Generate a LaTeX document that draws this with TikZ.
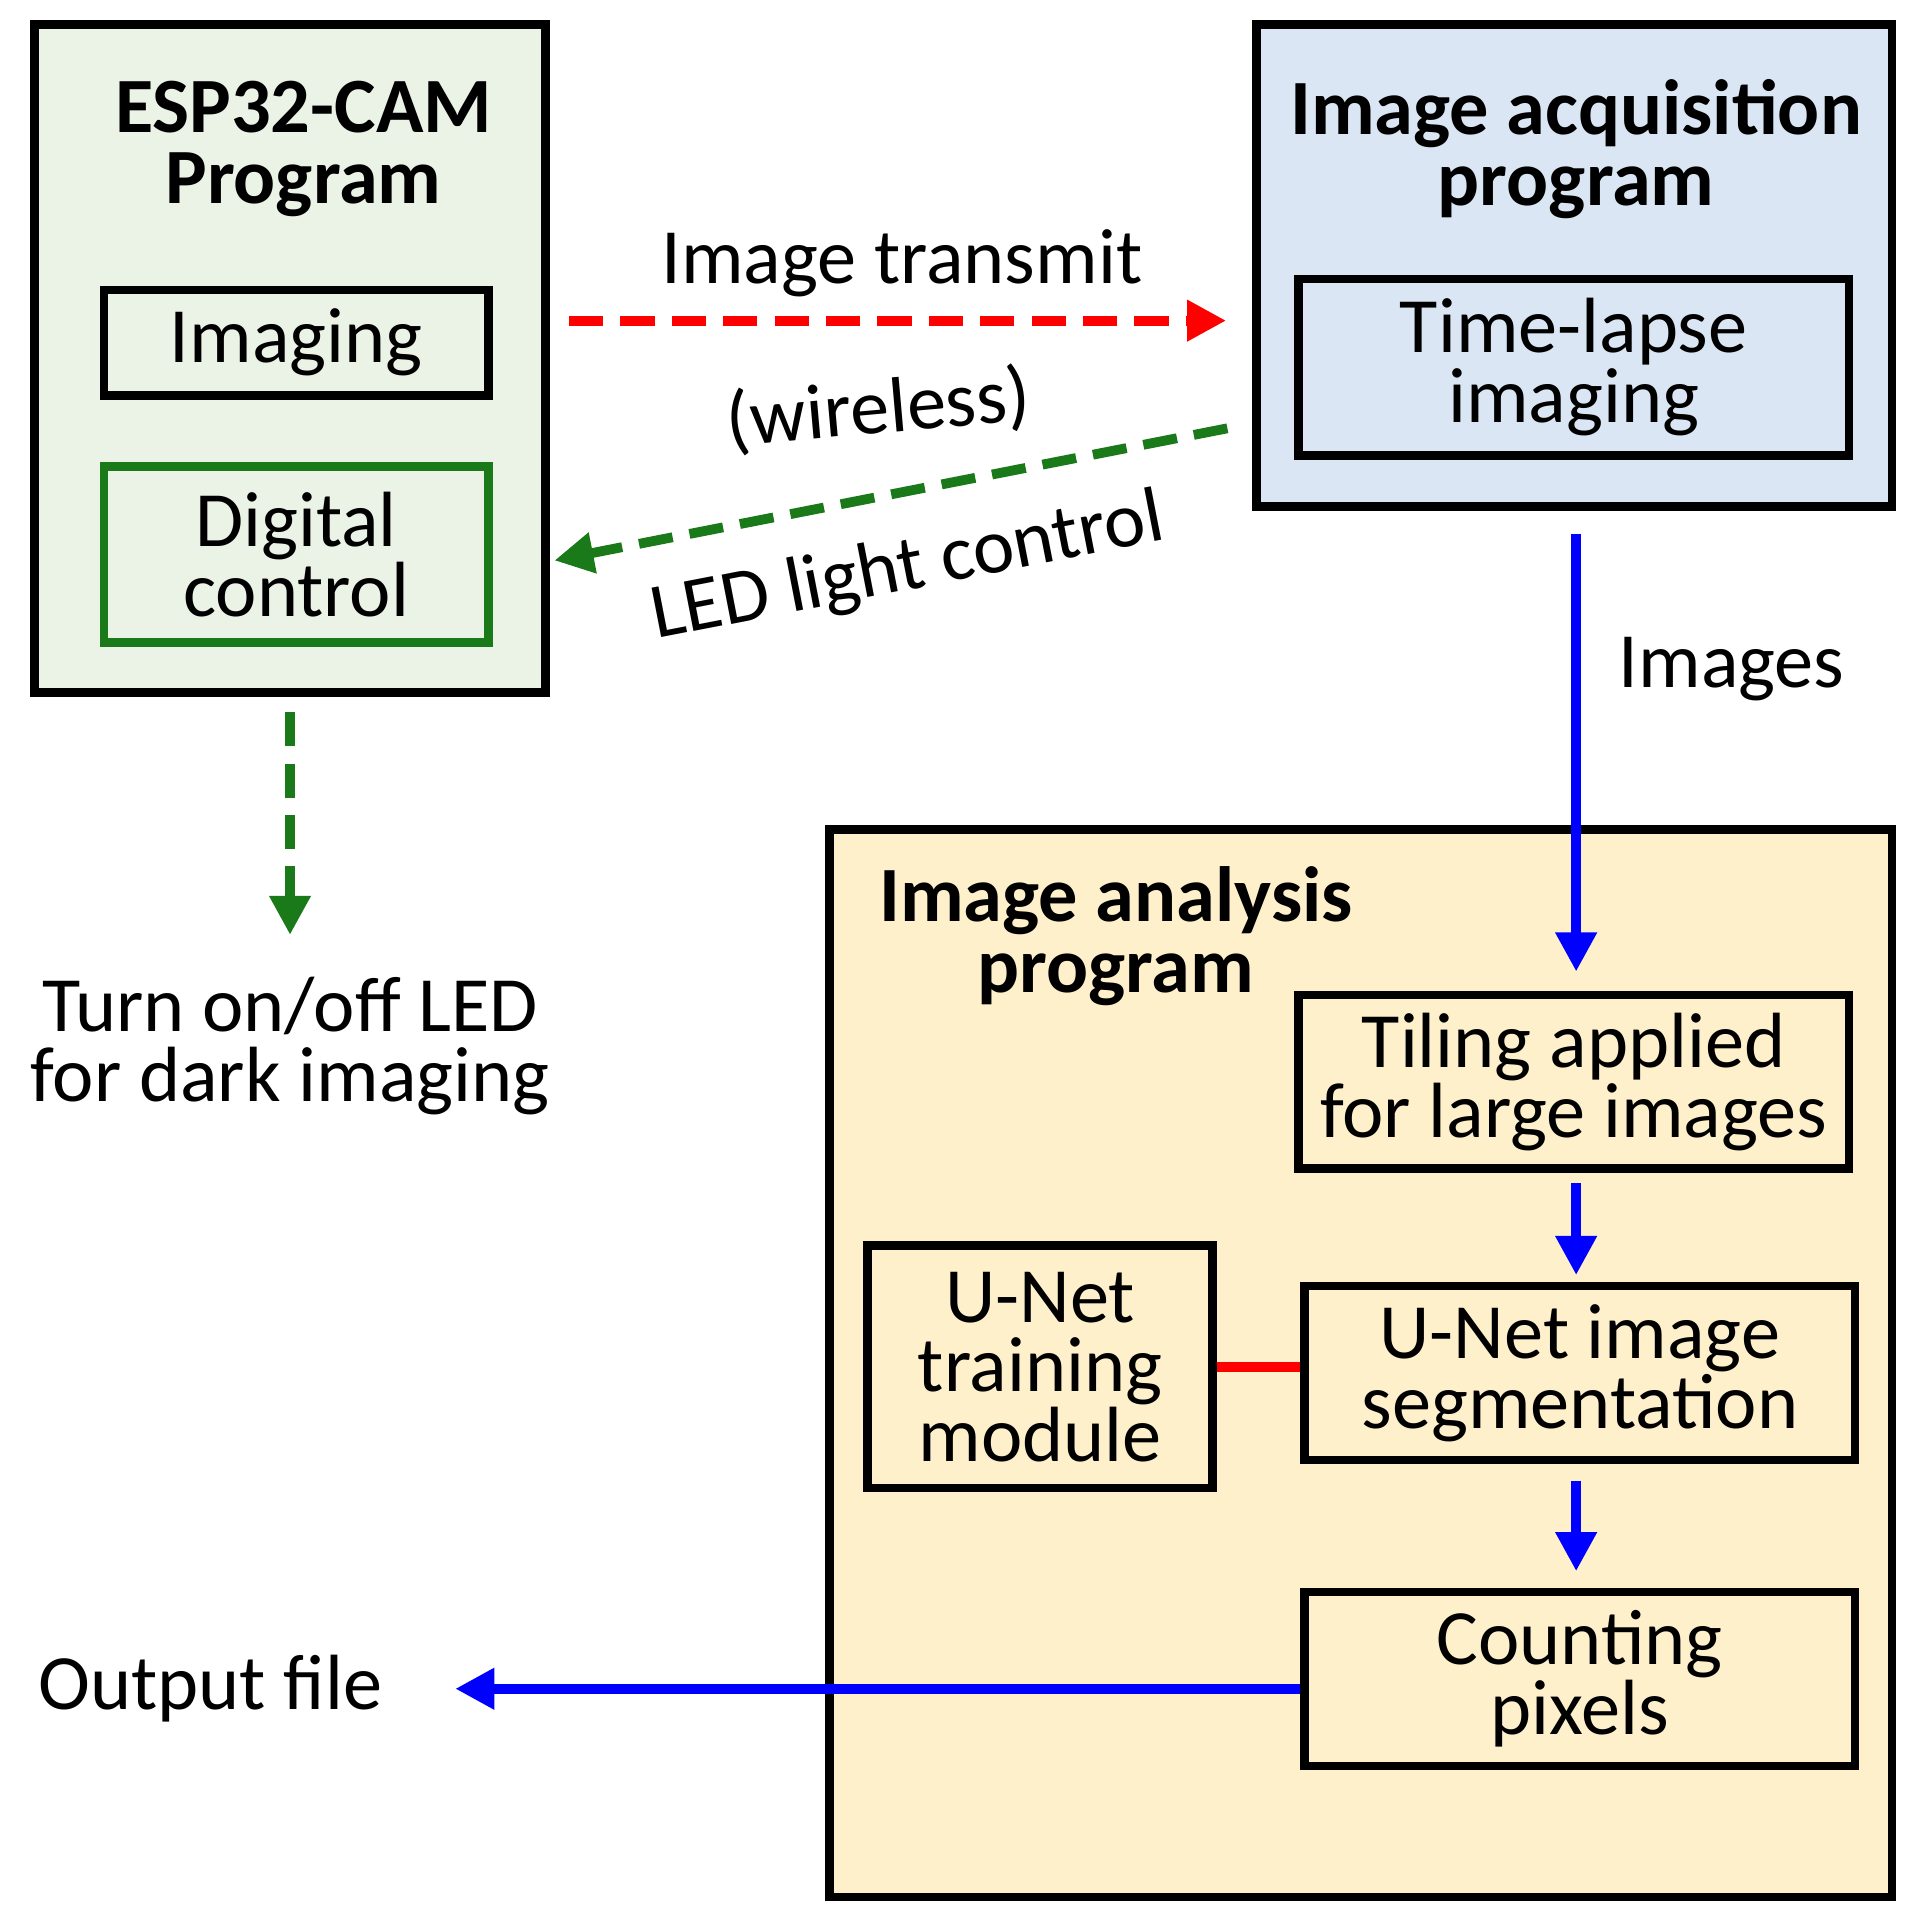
\documentclass[tikz,border=0pt]{standalone}
\usepackage{fontspec}
\setmainfont{Carlito}
\usetikzlibrary{arrows.meta}
\definecolor{gfill}{HTML}{EAF3E6}
\definecolor{bfill}{HTML}{DAE6F3}
\definecolor{yfill}{HTML}{FFF0CC}
\definecolor{dgreen}{HTML}{1A7A1A}
\begin{document}
\begin{tikzpicture}[x=0.5pt,y=-0.5pt,
  box/.style={draw=black,line width=3.5pt,inner sep=0pt},
  txt/.style={align=center,font=\fontsize{32}{28.5}\selectfont},
  ttl/.style={align=center,font=\fontsize{32}{29}\selectfont\bfseries},
  arr/.style={line width=4pt,-{Triangle[length=16pt,width=16pt]}},
  dsh/.style={dash pattern=on 14pt off 7pt}]
\useasboundingbox (0,0) rectangle (1560,1560);
% containers
\draw[box,fill=gfill] (28,20) rectangle (446,566);
\draw[box,fill=bfill] (1027,20) rectangle (1546,414);
\draw[box,fill=yfill] (678,678) rectangle (1546,1550);
\node[ttl] (t1) at (248,122) {ESP32-CAM\\Program};
\node[ttl] (t2) at (1288,122) {Image acquisition\\program};
\node[ttl] (t3) at (912,765) {Image analysis\\program};
% inner boxes
\node[box,minimum width=157pt,minimum height=43pt,txt] (img) at (242,280) {Imaging};
\node[box,draw=dgreen,minimum width=157pt,minimum height=72pt,txt] (dig) at (242,453) {Digital\\control};
\node[box,minimum width=225pt,minimum height=72pt,txt] (tl) at (1286,300) {Time-lapse\\imaging};
\node[box,minimum width=225pt,minimum height=71pt,txt] (tile) at (1286,884) {Tiling applied\\for large images};
\node[box,minimum width=225pt,minimum height=71pt,txt] (seg) at (1291,1122) {U-Net image\\segmentation};
\node[box,minimum width=141pt,minimum height=99pt,txt] (train) at (850,1117) {U-Net\\training\\module};
\node[box,minimum width=225pt,minimum height=71pt,txt] (cnt) at (1291,1372) {Counting\\pixels};
% free texts
\node[txt] (lbl1) at (737,215) {Image transmit};
\node[txt,rotate=5] (lbl2) at (718,335) {(wireless)};
\node[txt,rotate=11] (lbl3) at (742,465) {LED light control};
\node[txt] (led) at (237,855) {Turn on/off LED\\for dark imaging};
\node[txt] (imgs) at (1415,547) {Images};
\node[txt] (out) at (172,1380) {Output file};
\coordinate (a1) at (465,262); \coordinate (a2) at (1002,262);
\coordinate (b1) at (1003,350); \coordinate (b2) at (453,458);
\coordinate (c1) at (237,582); \coordinate (c2) at (237,764);
\coordinate (d1) at (1288,436); \coordinate (d2) at (1288,794);
\coordinate (e1) at (1288,967); \coordinate (e2) at (1288,1042);
\coordinate (f1) at (1288,1210); \coordinate (f2) at (1288,1284);
\coordinate (o2) at (372,1380);
% connectors
\draw[arr,red,dsh] (a1) -- (a2);
\draw[arr,dgreen,dsh] (b1) -- (b2);
\draw[arr,dgreen,dsh] (c1) -- (c2);
\draw[arr,blue] (d1) -- (d2);
\draw[arr,blue] (e1) -- (e2);
\draw[arr,blue] (f1) -- (f2);
\draw[line width=4pt,red] (train.east) -- (seg.west |- train.east);
\draw[arr,blue] (cnt.west |- o2) -- (o2);
\end{tikzpicture}
\end{document}
